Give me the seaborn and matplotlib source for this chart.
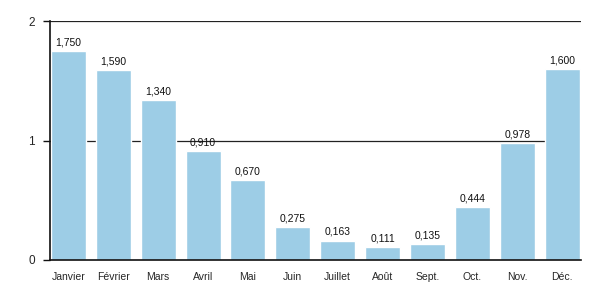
import matplotlib
matplotlib.use("Agg")
import matplotlib.pyplot as plt
import seaborn as sns
import pandas as pd

months = ["Janvier", "Février", "Mars", "Avril", "Mai", "Juin", "Juillet", "Août", "Sept.", "Oct.", "Nov.", "Déc."]
values = [1.750, 1.590, 1.340, 0.910, 0.670, 0.275, 0.163, 0.111, 0.135, 0.444, 0.978, 1.600]
labels = ["1,750", "1,590", "1,340", "0,910", "0,670", "0,275", "0,163", "0,111", "0,135", "0,444", "0,978", "1,600"]
yticks = [0, 1, 2]

sns.set_theme(style="white")
plt.rcParams['font.family'] = ['Liberation Sans', 'DejaVu Sans']

df = pd.DataFrame({"month": months, "value": values})
fig = plt.figure(figsize=(6, 3), dpi=100)
ax = fig.add_axes([50/600, 1-260/300, 531/600, 239/300])
for y in yticks[1:]:
    ax.axhline(y, color="#222222", lw=0.9, zorder=0)
sns.barplot(data=df, x="month", y="value", color="#9dcde6", saturation=1, width=0.78, ax=ax, zorder=2)
for i, (v, t) in enumerate(zip(values, labels)):
    ax.text(i, v + 0.03, t, ha="center", va="bottom", fontsize=7.5, color="#111111", zorder=3)
ax.set_xlim(-0.41, 11.42)
ax.set_ylim(0, 2)
ax.set_yticks(yticks)
ax.set_yticklabels([str(y) for y in yticks], fontsize=8.5)
ax.tick_params(axis="y", left=True, length=5, width=1, color="#111111", pad=6)
ax.tick_params(axis="x", bottom=False, labelsize=7.5, pad=3)
ax.set_xlabel("")
ax.set_ylabel("")
for s in ["top", "right"]:
    ax.spines[s].set_visible(False)
for s in ["left", "bottom"]:
    ax.spines[s].set_color("#111111")
    ax.spines[s].set_linewidth(1.2)
fig.savefig("out.png", dpi=100)
